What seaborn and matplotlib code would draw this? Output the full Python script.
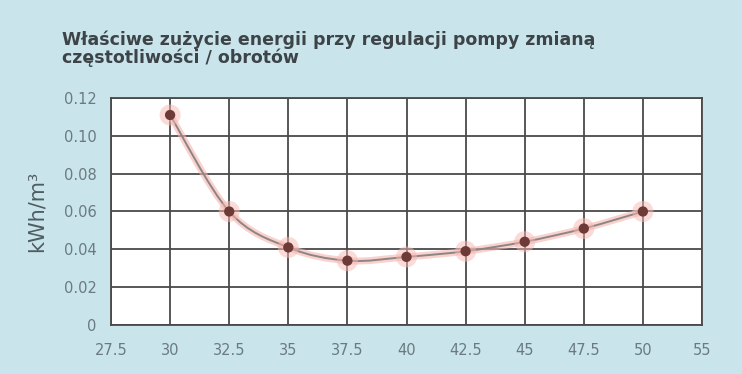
import numpy as np
import pandas as pd
import matplotlib
matplotlib.use("Agg")
import matplotlib.pyplot as plt
import seaborn as sns
from matplotlib.path import Path
from matplotlib.patches import PathPatch

# dane
czestotliwosc = [30, 32.5, 35, 37.5, 40, 42.5, 45, 47.5, 50]
zuzycie = [0.111, 0.060, 0.041, 0.034, 0.036, 0.039, 0.044, 0.051, 0.060]
etykiety_x = ["27.5", "30", "32.5", "35", "37.5", "40", "42.5", "45", "47.5", "50", "55"]
etykiety_y = ["0", "0.02", "0.04", "0.06", "0.08", "0.10", "0.12"]

tlo = "#c9e4eb"
siatka = "#4a4a4a"

sns.set_style("white")
plt.rcParams["font.family"] = ["DejaVu Sans"]

df = pd.DataFrame({"f": czestotliwosc, "kwh": zuzycie})

fig = plt.figure(figsize=(7.42, 3.74), dpi=100, facecolor=tlo)
ax = fig.add_axes([0.1496, 0.131, 0.7965, 0.607])
ax.set_facecolor("white")

# wygladzona linia (Catmull-Rom -> Bezier) liczona z danych
x = np.array(czestotliwosc, dtype=float)
y = np.array(zuzycie, dtype=float)
verts = [(x[0], y[0])]
codes = [Path.MOVETO]
for i in range(len(x) - 1):
    p0 = (x[i - 1], y[i - 1]) if i > 0 else (x[i], y[i])
    p3 = (x[i + 2], y[i + 2]) if i + 2 < len(x) else (x[i + 1], y[i + 1])
    c1 = (x[i] + (x[i + 1] - p0[0]) / 6, y[i] + (y[i + 1] - p0[1]) / 6)
    c2 = (x[i + 1] - (p3[0] - x[i]) / 6, y[i + 1] - (p3[1] - y[i]) / 6)
    verts += [c1, c2, (x[i + 1], y[i + 1])]
    codes += [Path.CURVE4] * 3
sciezka = Path(verts, codes)
ax.add_patch(PathPatch(sciezka, facecolor="none", edgecolor="#f6b3ad", lw=5, alpha=0.6, zorder=3))
ax.add_patch(PathPatch(sciezka, facecolor="none", edgecolor="#8d8585", lw=1.4, zorder=4))

sns.scatterplot(data=df, x="f", y="kwh", ax=ax, s=230, color="#f7b9b2", alpha=0.5,
                edgecolor="none", zorder=5, legend=False)
sns.scatterplot(data=df, x="f", y="kwh", ax=ax, s=55, color="#6e3a38",
                edgecolor="none", zorder=6, legend=False)

ax.set_xlim(27.5, 52.5)
ax.set_ylim(0, 0.12)
ax.set_xticks(np.linspace(27.5, 52.5, len(etykiety_x)))
ax.set_xticklabels(etykiety_x)
ax.set_yticks(np.linspace(0, 0.12, len(etykiety_y)))
ax.set_yticklabels(etykiety_y)
ax.grid(True, color=siatka, lw=1.3)
ax.set_axisbelow(True)
for s in ax.spines.values():
    s.set_color(siatka)
    s.set_linewidth(1.3)
ax.tick_params(axis="both", colors=siatka, labelcolor="#6a7a80", labelsize=10.5,
               length=7, width=1.3, direction="out")
ax.tick_params(axis="x", pad=6)
ax.set_xlabel("")
ax.set_ylabel("kWh/m³", fontsize=15, color="#4f5d62", labelpad=12)

fig.text(0.083, 0.918, "Właściwe zużycie energii przy regulacji pompy zmianą\nczęstotliwości / obrotów",
         fontsize=12.5, fontweight="bold", color="#3d4448", va="top", linespacing=0.95)

fig.savefig("out.png", dpi=100, facecolor=tlo)
